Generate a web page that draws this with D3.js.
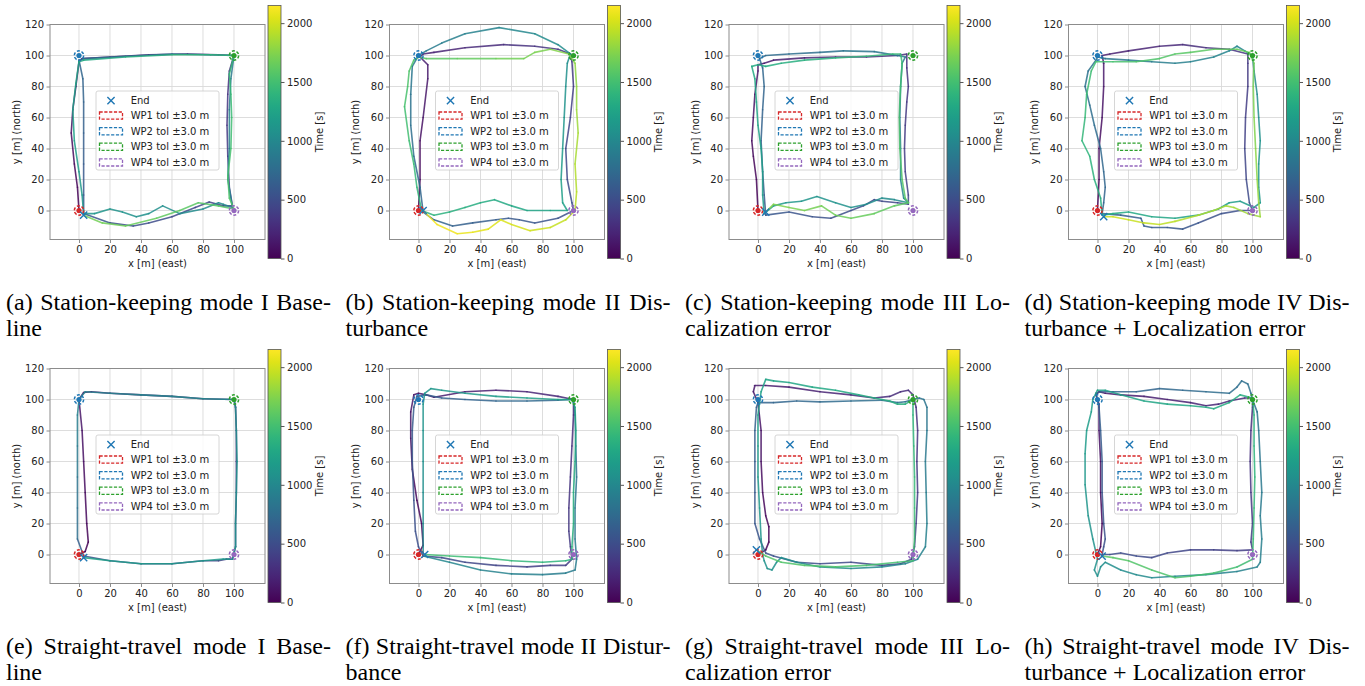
<!DOCTYPE html>
<html><head><meta charset="utf-8">
<script src="https://cdn.jsdelivr.net/npm/d3@7"></script>
<style>
body{margin:0;background:#fff;}
svg{display:block;font-family:"DejaVu Sans",sans-serif;}
.cap{font-family:"Liberation Serif","Times New Roman",serif;font-size:24px;fill:#000;}
</style></head><body>
<svg id="fig" width="1365" height="686"></svg>
<script>
// ticks and ranges
var xTicks = [0, 20, 40, 60, 80, 100];
var yTicks = [0, 20, 40, 60, 80, 100, 120];
var cbTicks = [0, 500, 1000, 1500, 2000];
var axisMin = -18.7, axisMax = 120;
var timeMax = 2150;
var tol = 3.0;

var wpNames  = ["WP1", "WP2", "WP3", "WP4"];
var wpX      = [0, 0, 100, 100];
var wpY      = [0, 100, 100, 0];
var wpColors = ["#d62728", "#1f77b4", "#2ca02c", "#9467bd"];

// trajectories: [x east, y north, time s]
var trajA = [
  [0,0,0],[-1,15,20],[-3,30,42],[-5,50,70],[-4,65,91],[-2,80,112],[0,96,135],
  [2,98,140],[20,99,165],[45,100.5,200],[70,101,235],[90,100.5,262],[100,100,280],
  [97,90,295],[96,75,315],[95.5,55,345],[96,35,375],[97,15,400],[99,3,418],
  [93,3,428],[84,5.5,442],[75,2,457],[60,-4,482],[45,-8,506],[35,-10,522],[20,-8,545],[3,-2,567],
  [3,10,580],[3,30,610],[3,50,640],[3,70,670],[2.5,85,690],[0,97,710],
  [3,98,715],[30,99.5,755],[60,101,800],[85,100.5,835],[100,100,850],
  [98,85,870],[97,65,900],[97,40,935],[96,20,965],[99,2,990],
  [93,4,1000],[90,5,1005],[80,1,1020],[65,-2,1045],[54,3,1060],[45,-2,1075],[37,-4,1087],[28,-1,1100],[20,1,1112],[10,-2,1125],[3,-2,1134],
  [2,10,1145],[0,25,1165],[-3,45,1195],[-4,65,1225],[-2,82,1250],[0,96,1272],
  [3,97,1278],[30,99,1320],[60,100.5,1370],[85,100.5,1405],[100,100,1415],
  [97,88,1432],[98,75,1450],[98.5,60,1475],[98,40,1505],[96,22,1530],[97,8,1550],[100,1,1560],
  [90,3,1575],[77,5,1593],[65,0,1612],[50,-5,1635],[30,-10,1665],[15,-8,1685],[3,-3,1700]
];
var trajB = [
  [0,0,0],[1,20,35],[1,45,80],[3,60,105],[6,85,150],[6,94,165],[1,99,175],
  [3,101,180],[10,102,195],[30,105,235],[55,107,280],[75,106,315],[90,104,335],[98,101,350],
  [99,96,358],[100,80,385],[98,60,420],[95,40,455],[96,20,490],[99,5,515],[100,0,525],
  [90,-5,543],[75,-8,570],[65,-6,590],[58,-5,602],[50,-6,615],[35,-8,643],[22,-10,665],[10,-6,688],[3,-1,700],
  [1,15,725],[-3,35,760],[-5,55,795],[-5,75,830],[-4,93,862],[0,100,875],
  [5,103,885],[15,108,905],[30,114,935],[52,118,975],[75,114,1015],[90,107,1040],[98,101,1050],
  [96,95,1060],[95,80,1085],[94,60,1120],[93,40,1155],[92,20,1190],[93,5,1215],[96,0,1225],
  [85,0,1245],[70,0,1270],[60,3,1290],[49,7,1310],[40,5,1325],[30,2,1345],[20,-1,1365],[10,-3,1385],[2,0,1400],
  [-1,15,1425],[-3,30,1450],[-6,45,1475],[-9,67,1515],[-7,80,1540],[-6,90,1555],[-3,97,1570],[0,99,1580],
  [5,98,1590],[25,98,1625],[50,98,1665],[68,98,1700],[75,102,1715],[85,104,1735],[97,101,1760],
  [101,95,1770],[102,80,1800],[102,65,1825],[103,50,1850],[101,30,1885],[102,12,1915],[101,0,1935],
  [95,-6,1948],[85,-11,1970],[72,-13,1995],[60,-9,2020],[53,-6,2033],[45,-12,2050],[35,-14,2070],[25,-15,2090],[12,-9,2110],[3,0,2120]
];
var trajC = [
  [0,0,0],[-1,20,30],[-3,35,52],[-4,45,68],[-3,60,90],[-2,75,112],[0,90,135],[0,94,146],
  [4,95,152],[10,97,162],[30,98.5,195],[50,99,225],[70,99,255],[90,100,285],[96,101,292],
  [96,92,305],[97,80,323],[96,70,338],[95,55,360],[94.5,40,382],[95,25,405],[97,10,428],[97,4,438],
  [90,5,449],[80,6,465],[75,7,473],[68,3,485],[60,0,498],[47,-5,520],[35,-4,540],[20,-1,562],[5,-3,583],
  [4,10,598],[3,25,620],[2,45,650],[3,65,680],[4,80,700],[3,92,718],[1,98,729],
  [5,100,735],[20,101,760],[40,102,790],[55,103,812],[75,102.5,842],[90,100,865],[95,99,875],
  [93,95,880],[92,80,905],[91.5,60,935],[92,40,965],[92,20,995],[94,8,1013],[97,5,1020],
  [88,7,1033],[80,8,1046],[70,4,1062],[60,2,1077],[50,5,1093],[38,9,1110],[28,6,1125],[18,5,1140],[10,3,1152],[4,-2,1166],
  [3,10,1180],[3,25,1200],[2,40,1220],[0,55,1245],[-1,70,1265],[-2,85,1290],[-4,93,1305],[0,94,1312],
  [5,93,1320],[15,95,1335],[30,97,1360],[50,98.5,1390],[70,99.5,1420],[87,101,1448],[92,101,1456],
  [93,95,1462],[92,80,1485],[91,60,1515],[91.5,40,1545],[93,20,1575],[95,8,1593],[97,5,1600],
  [88,3,1615],[75,-2,1635],[60,-5,1660],[50,-3,1675],[41,3,1690],[30,0,1708],[20,2,1723],[10,4,1738],[5,-1,1750]
];
var trajD = [
  [0,0,0],[1,20,33],[1,40,67],[3,60,100],[4,80,133],[4,95,158],[3,100,167],
  [8,101,180],[20,103,200],[40,106,233],[55,107,258],[70,105,283],[85,104,308],[97,101,333],
  [97,95,343],[97,80,368],[95.5,60,400],[95,40,433],[96,20,467],[98,5,492],[100,0,500],
  [92,0,513],[80,-2,533],[65,-8,558],[55,-12,575],[45,-11,592],[35,-11,608],[30,-10,617],[28,-5,625],[15,-3,646],[3,-2,667],
  [4,5,675],[5,15,690],[4,25,705],[2,40,730],[-2,55,755],[-5,68,775],[-8,80,795],[-6,90,812],[-1,97,828],[0,99,834],
  [5,98,842],[20,97,867],[35,96,892],[50,95,917],[60,96,933],[75,99,958],[85,103,975],[90,106,983],[95,103,992],[100,100,1000],
  [101,90,1017],[103,75,1042],[104,60,1067],[105,45,1092],[104,30,1117],[104,15,1142],[105,5,1158],[101,2,1167],
  [92,6,1180],[85,5,1192],[78,1,1205],[65,-3,1227],[50,-5,1252],[35,-4,1277],[20,-1,1302],[10,-2,1318],[3,-3,1334],
  [2,8,1346],[-2,20,1366],[-5,35,1390],[-10,45,1410],[-8,60,1435],[-7,75,1460],[-4,90,1485],[-1,96,1500],
  [10,96,1515],[25,96,1540],[40,98,1565],[50,101,1582],[60,102,1598],[75,104,1623],[90,104,1648],[98,102,1660],
  [101,95,1672],[100.5,80,1697],[101,60,1730],[102,40,1763],[103,20,1797],[104,5,1822],[105,-4,1833],
  [97,-2,1845],[88,2,1860],[83,3,1868],[75,0,1882],[65,-3,1900],[50,-7,1925],[40,-9,1942],[30,-8,1958],[20,-6,1975],[10,-4,1990],[4,-4,2000]
];
var trajE = [
  [0,0,0],[4,2,8],[6,8,16],[5,20,32],[4,40,57],[3,60,82],[2,80,107],[0,100,131],
  [3,104.5,138],[8,105,145],[20,104,163],[40,103,192],[60,102,222],[80,100.5,252],[100,100,262],
  [101,95,270],[101.5,80,290],[101.5,60,316],[101.5,40,342],[101,20,368],[101,5,388],[99,-3,394],
  [95,-3,400],[90,-4,407],[80,-4,422],[60,-6,452],[40,-6,482],[20,-4,512],[3,-1,525],
  [-1,10,760],[-1,30,800],[-1,50,840],[-1,70,880],[-1,90,920],[0,100,940],
  [4,105,950],[20,104,970],[40,103,990],[60,102,1010],[80,100.5,1030],[100,100,1045],
  [101,95,1052],[101.5,80,1065],[102,60,1080],[101.5,40,1095],[101,20,1110],[101,5,1122],[99,-3,1128],
  [93,-3,1136],[80,-4,1150],[60,-6,1170],[40,-6,1190],[20,-4,1210],[3,-2,1225]
];
var trajF = [
  [0,0,0],[3,6,10],[2,20,28],[-1,35,46],[-4,55,71],[-5,75,96],[-5,92,117],[-3,103,125],
  [0,104,130],[5,103,135],[10,101.5,142],[30,105,167],[50,106,192],[70,105,217],[90,102,242],[100,100,250],
  [100,90,262],[99,70,287],[98,50,312],[97,30,337],[97,15,356],[98,5,368],[99,-3,375],
  [95,-7,381],[85,-7,394],[70,-8,412],[50,-7,437],[30,-5,462],[15,-2,481],[3,-1,500],
  [0,5,508],[-2,15,520],[-3,35,545],[-4,60,577],[-4,80,602],[-3,95,621],[-1,102,630],
  [5,103,637],[15,101,650],[30,100,668],[50,99,693],[70,99,718],[90,99.5,742],[100,100,755],
  [101,90,767],[101.5,70,792],[102,50,817],[101,30,842],[101,10,867],[102,-3,880],[101,-10,889],
  [95,-12,896],[80,-13,915],[60,-12.5,940],[40,-10,965],[20,-5,990],[3,-1,1000],
  [3,5,1006],[3,20,1025],[3,40,1050],[3,60,1075],[3,80,1100],[3,97,1121],[4,104,1130],[8,107,1135],
  [15,106,1143],[30,104,1162],[50,102,1187],[70,101,1212],[90,100,1237],[99,100,1250],
  [101,95,1256],[101.5,80,1275],[101,60,1300],[100,40,1325],[100,20,1350],[99,5,1368],[99,-3,1375],
  [95,-4,1381],[80,-5,1400],[60,-4,1425],[40,-2,1450],[20,-1,1475],[4,0,1500]
];
var trajG = [
  [0,0,0],[5,3,8],[7,8,15],[7,18,27],[5,25,36],[3,40,55],[2,60,80],[2,80,105],[0,98,127],[-3,105,137],[-2,109,143],
  [5,109,152],[20,108,172],[40,105,200],[60,103,227],[75,101,247],[85,102,260],[92,105,270],[97,106,277],[100,103,283],
  [102,95,295],[103,80,315],[102.5,60,340],[103,40,365],[102,20,390],[101,5,410],[99,-3,420],
  [92,-6,430],[80,-7,445],[60,-5,470],[40,-6,495],[25,-5,515],[10,-1,535],[5,1,545],
  [1,10,560],[-2,20,575],[-2,40,600],[-2,60,625],[-2,80,650],[-1,95,670],[0,98,675],
  [10,98,690],[25,99,710],[40,98.5,730],[60,99,755],[80,99.5,780],[90,98,795],[95,98.5,800],[100,100,808],
  [104,101,815],[107,100,820],[109,95,828],[109,80,848],[108,60,873],[108.5,40,898],[109,20,923],[108,5,943],[103,-3,955],
  [95,-6,965],[80,-8,985],[60,-9,1010],[40,-8,1035],[25,-5,1055],[15,-2,1068],[12,-5,1073],[9,-10,1080],[6,-9,1085],[4,-4,1092],[3,0,1098],
  [2,10,1110],[1,30,1135],[0,50,1160],[0,70,1185],[0,90,1210],[2,105,1230],[5,113,1240],[10,112,1247],
  [20,111,1260],[35,108,1280],[50,106,1300],[65,103,1320],[75,101,1333],[85,99,1347],[90,97,1355],[95,97,1362],[100,100,1370],
  [100,90,1383],[100.5,70,1408],[101,50,1433],[101,30,1458],[101,10,1483],[100,-4,1500],
  [90,-5,1510],[70,-7,1525],[50,-8,1540],[30,-7,1555],[15,-5,1568],[5,-1,1578],[-1,3,1582]
];
var trajH = [
  [0,0,0],[2,5,7],[3,20,25],[2,40,50],[2,60,75],[1,80,100],[1,97,121],[-1,103,129],[1,105,132],
  [5,104,138],[15,103,150],[30,102,170],[45,100,190],[60,98,210],[70,96,222],[78,97,232],[85,99,241],[95,101,254],[100,101,260],
  [100,95,268],[99,80,288],[98.5,60,313],[99,40,338],[100,20,363],[99,8,378],[100,3,385],
  [90,2.5,397],[75,3,417],[60,3,437],[45,1,456],[35,-2,469],[25,-1,482],[15,1,495],[8,0,505],[3,0,512],
  [4,5,527],[5,10,535],[4,20,548],[3,40,573],[3,60,598],[2,80,623],[1,95,642],[-1,104,652],[2,105,656],
  [10,105,667],[25,105,687],[40,107,706],[55,106,726],[70,105,746],[85,104,766],[90,108,773],[93,112,777],[97,110,782],[99,104,790],[100,100,795],
  [103,92,806],[104,80,821],[105,60,846],[106,40,871],[105,25,890],[106,10,908],[105,-5,928],[103,-8,933],
  [90,-11,950],[70,-13,975],[50,-14,1000],[35,-15,1018],[25,-13,1030],[15,-10,1043],[5,-5,1057],[2,-8,1061],[0,-14,1068],[-2,-10,1073],[0,-3,1080],
  [-3,10,1093],[-6,25,1112],[-8,45,1137],[-8,65,1162],[-7,80,1180],[-4,92,1195],[-3,100,1205],[0,106,1213],
  [5,106,1220],[15,103,1233],[30,99,1253],[45,97,1272],[60,96,1292],[70,95,1305],[75,94,1311],[85,98,1324],[92,103,1333],[100,101,1343],
  [101,90,1357],[101,70,1382],[101.5,50,1407],[101,30,1432],[100.5,10,1457],[100,-3,1473],
  [90,-8,1487],[75,-12,1507],[60,-14,1527],[50,-15,1540],[35,-10,1560],[20,-4,1580],[10,-2,1593],[3,-1,1600]
];

var trajs = [trajA, trajB, trajC, trajD, trajE, trajF, trajG, trajH];
var capFirst = [
  "(a) Station-keeping mode I Base-", "(b) Station-keeping mode II Dis-",
  "(c) Station-keeping mode III Lo-", "(d) Station-keeping mode IV Dis-",
  "(e) Straight-travel mode I Base-", "(f) Straight-travel mode II Distur-",
  "(g) Straight-travel mode III Lo-", "(h) Straight-travel mode IV Dis-"
];
var capSecond = ["line", "turbance", "calization error", "turbance + Localization error",
  "line", "bance", "calization error", "turbance + Localization error"];

var svg = d3.select("#fig");
var size = 215, colStep = 339.5, rowStep = 344;

// shared colour bar gradient
var defs = svg.append("defs");
var grad = defs.append("linearGradient").attr("id", "viridis")
  .attr("x1", 0).attr("y1", 1).attr("x2", 0).attr("y2", 0);
d3.range(0, 1.0001, 0.05).forEach(function(s) {
  grad.append("stop").attr("offset", s).attr("stop-color", d3.interpolateViridis(s));
});
var color = d3.scaleSequential(d3.interpolateViridis).domain([0, timeMax]);

trajs.forEach(function(traj, i) {
  var col = i % 4, row = Math.floor(i / 4);
  var left = 50 + col * colStep, top = 24.5 + row * rowStep;
  var x = d3.scaleLinear().domain([axisMin, axisMax]).range([left, left + size]);
  var y = d3.scaleLinear().domain([axisMin, axisMax]).range([top + size, top]);
  var g = svg.append("g");

  defs.append("clipPath").attr("id", "clip" + i).append("rect")
    .attr("x", left).attr("y", top).attr("width", size).attr("height", size);

  // grid
  g.selectAll(".gx").data(xTicks).enter().append("line")
    .attr("x1", function(d) { return x(d); }).attr("x2", function(d) { return x(d); })
    .attr("y1", top).attr("y2", top + size)
    .attr("stroke", "#d9d9d9").attr("stroke-width", 0.9);
  g.selectAll(".gy").data(yTicks).enter().append("line")
    .attr("y1", function(d) { return y(d); }).attr("y2", function(d) { return y(d); })
    .attr("x1", left).attr("x2", left + size)
    .attr("stroke", "#d9d9d9").attr("stroke-width", 0.9);

  // trajectory, one segment per pair of points, coloured by time
  var segs = d3.pairs(traj);
  g.append("g").attr("clip-path", "url(#clip" + i + ")")
    .selectAll("line").data(segs).enter().append("line")
    .attr("x1", function(d) { return x(d[0][0]); })
    .attr("y1", function(d) { return y(d[0][1]); })
    .attr("x2", function(d) { return x(d[1][0]); })
    .attr("y2", function(d) { return y(d[1][1]); })
    .attr("stroke", function(d) { return color((d[0][2] + d[1][2]) / 2); })
    .attr("stroke-width", 1.6).attr("stroke-linecap", "round").attr("opacity", 0.85);

  // waypoints with tolerance circles
  wpNames.forEach(function(n, k) {
    var r = x(tol) - x(0);
    g.append("circle").attr("cx", x(wpX[k])).attr("cy", y(wpY[k])).attr("r", r)
      .attr("fill", "none").attr("stroke", wpColors[k]).attr("stroke-width", 1.5)
      .attr("stroke-dasharray", "3,1.8");
    g.append("circle").attr("cx", x(wpX[k])).attr("cy", y(wpY[k])).attr("r", 2.6)
      .attr("fill", wpColors[k]);
  });

  // end marker
  var last = traj[traj.length - 1];
  drawCross(g, x(last[0]), y(last[1]));

  // spines
  g.append("rect").attr("x", left).attr("y", top).attr("width", size).attr("height", size)
    .attr("fill", "none").attr("stroke", "#8c8c8c").attr("stroke-width", 1);

  // axes
  var ax = g.append("g").attr("transform", "translate(0," + (top + size) + ")")
    .call(d3.axisBottom(x).tickValues(xTicks).tickSize(3.5).tickPadding(2.5));
  var ay = g.append("g").attr("transform", "translate(" + left + ",0)")
    .call(d3.axisLeft(y).tickValues(yTicks).tickSize(3.5).tickPadding(2.5));
  [ax, ay].forEach(function(a) {
    a.select(".domain").remove();
    a.selectAll("line").attr("stroke", "#8c8c8c");
    a.selectAll("text").attr("fill", "#222").style("font-size", "10px")
      .style("font-family", "DejaVu Sans");
  });

  g.append("text").attr("x", left + size / 2).attr("y", top + size + 27)
    .attr("text-anchor", "middle").style("font-size", "10px").attr("fill", "#222")
    .text("x [m] (east)");
  g.append("text").attr("transform", "translate(" + (left - 34) + "," + (top + size / 2) + ") rotate(-90)")
    .attr("text-anchor", "middle").attr("dy", "0.35em").style("font-size", "10px").attr("fill", "#222")
    .text("y [m] (north)");

  // legend
  var lx = left + 46, ly = top + 66.5;
  var lg = g.append("g");
  lg.append("rect").attr("x", lx).attr("y", ly).attr("width", 123).attr("height", 79)
    .attr("rx", 2).attr("fill", "#fff").attr("fill-opacity", 0.8)
    .attr("stroke", "#cccccc").attr("stroke-width", 0.8);
  drawCross(lg, lx + 15, ly + 9.7);
  lg.append("text").attr("x", lx + 34.7).attr("y", ly + 9.7).attr("dy", "0.35em")
    .style("font-size", "10px").attr("fill", "#222").text("End");
  wpNames.forEach(function(n, k) {
    var cy = ly + 24.6 + k * 15.6;
    lg.append("rect").attr("x", lx + 3.5).attr("y", cy - 3.6).attr("width", 23).attr("height", 7.2)
      .attr("fill", "none").attr("stroke", wpColors[k]).attr("stroke-width", 1.3)
      .attr("stroke-dasharray", "3.2,1.6");
    lg.append("text").attr("x", lx + 34.7).attr("y", cy).attr("dy", "0.35em")
      .style("font-size", "10px").attr("fill", "#222")
      .text(n + " tol \u00b1" + tol.toFixed(1) + " m");
  });

  // colour bar
  var cbx = left + 218, cbTop = top - 19, cbBot = top + size + 19;
  var cb = d3.scaleLinear().domain([0, timeMax]).range([cbBot, cbTop]);
  g.append("rect").attr("x", cbx).attr("y", cbTop).attr("width", 13).attr("height", cbBot - cbTop)
    .attr("fill", "url(#viridis)").attr("stroke", "#555").attr("stroke-width", 0.8);
  var ac = g.append("g").attr("transform", "translate(" + (cbx + 13) + ",0)")
    .call(d3.axisRight(cb).tickValues(cbTicks).tickFormat(d3.format("d")).tickSize(3.5).tickPadding(2.5));
  ac.select(".domain").remove();
  ac.selectAll("line").attr("stroke", "#555");
  ac.selectAll("text").attr("fill", "#222").style("font-size", "10px").style("font-family", "DejaVu Sans");
  g.append("text").attr("transform", "translate(" + (cbx + 51) + "," + ((cbTop + cbBot) / 2) + ") rotate(-90)")
    .attr("text-anchor", "middle").attr("dy", "0.35em").style("font-size", "10px").attr("fill", "#222")
    .text("Time [s]");

  // caption, first line justified
  var cx0 = 6 + col * colStep, cw = 325;
  var base = 310 + row * rowStep;
  var t1 = svg.append("text").attr("class", "cap").attr("x", cx0).attr("y", base).text(capFirst[i]);
  var natural = t1.node().getComputedTextLength();
  var gaps = capFirst[i].split(" ").length - 1;
  if (natural < cw) {
    t1.style("word-spacing", ((cw - natural) / gaps) + "px");
  } else {
    t1.attr("textLength", cw).attr("lengthAdjust", "spacingAndGlyphs");
  }
  svg.append("text").attr("class", "cap").attr("x", cx0).attr("y", base + 26).text(capSecond[i]);
});

function drawCross(sel, cx, cy) {
  var s = 3.6;
  sel.append("path")
    .attr("d", "M" + (cx - s) + "," + (cy - s) + "L" + (cx + s) + "," + (cy + s) +
               "M" + (cx - s) + "," + (cy + s) + "L" + (cx + s) + "," + (cy - s))
    .attr("stroke", "#1f77b4").attr("stroke-width", 1.4).attr("fill", "none");
}
</script>
</body></html>
